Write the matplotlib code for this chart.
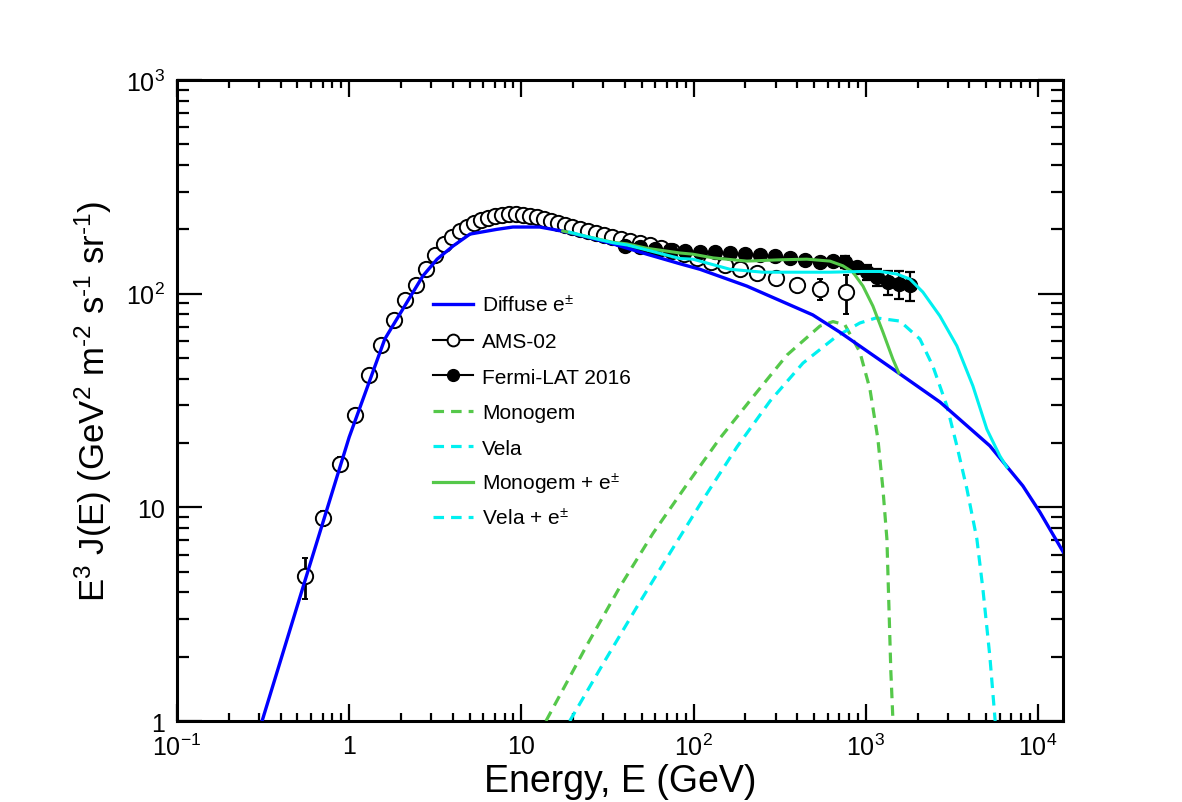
import numpy as np
import matplotlib
matplotlib.use("Agg")
import matplotlib.pyplot as plt
from matplotlib.lines import Line2D
from matplotlib.ticker import FixedLocator, FixedFormatter, NullFormatter

plt.rcParams['font.family'] = ['Liberation Sans', 'DejaVu Sans']
plt.rcParams['mathtext.fontset'] = 'custom'
plt.rcParams['mathtext.rm'] = 'Liberation Sans'
plt.rcParams['mathtext.it'] = 'Liberation Sans:italic'

# ---------------- data ----------------
# Diffuse e+- model
diffuse_E = [0.312, 0.553, 1.0, 1.61, 2.17, 2.68, 3.24, 4.01, 5.03, 7.22, 8.93, 12.8, 17.4, 24.0,
             34.0, 53.6, 83.4, 109, 204, 493, 708, 1438, 2700, 5260, 8180, 10270, 14000]
diffuse_V = [1.0, 4.52, 21.3, 61.3, 91.4, 121, 145, 167, 190, 200, 205, 205, 196, 184,
             171, 153, 138, 130, 108.5, 79.5, 66.0, 44.4, 31.1, 19.4, 12.6, 9.5, 6.2]

# Monogem (dashed green)
monogem_E = [13.9, 24.0, 37.4, 58.1, 91.6, 142, 221, 349, 542, 646, 757, 925, 1058, 1177,
             1259, 1328, 1364, 1400, 1440]
monogem_V = [1.0, 2.26, 4.25, 7.55, 12.8, 21.0, 32.8, 51.6, 70.5, 74.0, 71.5, 53.3, 35.8, 20.9,
             12.2, 7.1, 3.45, 1.7, 1.0]

# Vela (dashed cyan)
vela_E = [19.1, 29.8, 46.9, 72.9, 113, 179, 278, 432, 680, 925, 1150, 1580, 2065, 2455,
          2962, 3385, 3870, 4424, 4793, 5260, 5650]
vela_V = [1.0, 1.85, 3.42, 6.11, 10.8, 19.2, 31.4, 47.3, 63.3, 72.9, 77.0, 74.4, 61.3, 45.8,
          29.8, 19.4, 12.2, 7.1, 4.15, 2.01, 1.0]

# Monogem + e+- (solid green)
mono_sum_E = [17.4, 24.0, 34.0, 41.0, 53.6, 83.4, 99, 130, 204, 318, 455, 620, 737, 843,
              964, 1101, 1259, 1438, 1559]
mono_sum_V = [196.5, 185, 174, 171, 163, 155, 153, 147, 142, 144, 145, 142, 135, 126,
              108.5, 87.5, 66.1, 49.4, 42.5]

# Vela + e+- (solid cyan)
vela_sum_E = [19.1, 24.0, 34.0, 41.0, 53.6, 83.4, 99, 163, 253, 399, 620, 963, 1209, 1518,
              1806, 2148, 2697, 3385, 4193, 5055, 6015, 6607]
vela_sum_V = [194, 185, 173, 169, 160, 146, 145, 130, 126, 126, 126, 127, 127, 123.5,
              117, 101.7, 78.6, 56.9, 37, 23.2, 17.4, 15.4]

# AMS-02 data
ams_E = [0.554, 0.705, 0.884, 1.081, 1.303, 1.530, 1.820, 2.109, 2.443, 2.793, 3.150, 3.552,
         3.954, 4.400, 4.832, 5.305, 5.827, 6.397, 7.025, 7.715, 8.472, 9.304, 10.21, 11.22,
         12.32, 13.53, 14.86, 16.31, 17.92, 19.67, 21.89, 24.37, 27.12, 30.18, 33.59, 37.87,
         42.72, 48.83, 55.82, 64.67, 74.9, 87.97, 104.6, 126.2, 152.1, 186.0, 233.5, 301.0,
         398.6, 542.0, 767.4]
ams_V = [4.77, 8.91, 15.95, 27.0, 41.6, 57.5, 75.2, 93.3, 109.7, 130.4, 151.6, 170.7,
         184.0, 196.3, 204.9, 214.0, 221.0, 225.9, 230.8, 233.3, 235.8, 235.8, 233.3, 230.8,
         228.3, 223.4, 218.7, 214.0, 209.4, 204.9, 200.6, 196.3, 192.1, 188.0, 184.0, 180.1,
         176.3, 172.5, 168.8, 163.5, 158.2, 153.2, 146.8, 140.6, 136.1, 130.4, 124.9, 118.3,
         109.7, 105.1, 101.7]
ams_err = [1.05, 0.75, 1.2, 1.0, 1.2, 1.5, 1.8, 2.0, 2.2, 2.5, 2.8, 3.0,
           3.2, 3.3, 3.4, 3.5, 3.5, 3.5, 3.5, 3.5, 3.5, 3.5, 3.5, 3.4,
           3.4, 3.3, 3.2, 3.1, 3.0, 3.0, 2.9, 2.9, 2.8, 2.8, 2.8, 2.8,
           2.8, 2.8, 2.8, 2.8, 2.8, 2.8, 2.9, 3.0, 3.2, 3.5, 4.0, 4.5,
           5.5, 11.5, 21.0]

# Fermi-LAT 2016 data
fermi_E = [39.96, 48.83, 59.68, 72.9, 89.1, 108.9, 133.1, 162.7, 198.9, 243.0, 297.0, 362.9,
           443.6, 542.0, 645.1, 757.1, 888.9, 1016, 1161, 1345, 1559, 1806]
fermi_V = [167.0, 165.2, 161.7, 160.0, 158.2, 156.6, 156.6, 154.9, 153.2, 151.6, 150.0, 146.8,
           143.6, 140.6, 142.1, 140.6, 133.2, 126.2, 119.6, 113.3, 110.9, 109.7]
fermi_err = [3.0, 3.0, 3.0, 3.0, 3.0, 3.0, 3.0, 3.0, 3.0, 3.0, 3.5, 4.0,
             4.5, 5.0, 6.0, 9.0, 8.0, 10.0, 11.0, 15.0, 17.0, 17.0]

x_ticks = [0.1, 1, 10, 100, 1000, 10000]
x_ticklabels = [r'10$^{-1}$', '1', '10', r'10$^{2}$', r'10$^{3}$', r'10$^{4}$']
y_ticks = [1, 10, 100, 1000]
y_ticklabels = ['1', '10', r'10$^{2}$', r'10$^{3}$']

legend_labels = [r'Diffuse e$^{\pm}$', 'AMS-02', 'Fermi-LAT 2016', 'Monogem', 'Vela',
                 r'Monogem + e$^{\pm}$', r'Vela + e$^{\pm}$']

BLUE = '#0000ff'
GREEN = '#55c84a'
CYAN = '#00f0f0'

# ---------------- figure ----------------
W, H = 1182, 803
fig = plt.figure(figsize=(W / 100, H / 100), dpi=100)
ax = fig.add_axes([0.14975, 0.10087, 0.7496, 0.7983])
ax.set_xscale('log')
ax.set_yscale('log')
ax.set_xlim(0.1, 1.4e4)
ax.set_ylim(1, 1000)

# data points
ax.errorbar(ams_E, ams_V, yerr=ams_err, fmt='o', ms=11, mfc='white', mec='black', mew=1.4,
            ecolor='black', elinewidth=2.0, capsize=2.5, capthick=2.0, zorder=3)
ax.errorbar(fermi_E, fermi_V, yerr=fermi_err, fmt='o', ms=10, mfc='black', mec='black',
            ecolor='black', elinewidth=1.6, capsize=3.5, capthick=1.6, zorder=3)

# model curves
dash = (0, (3.3, 2.2))
ax.plot(monogem_E, monogem_V, color=GREEN, lw=2.3, ls=dash, zorder=4)
ax.plot(vela_E, vela_V, color=CYAN, lw=2.3, ls=dash, zorder=4)
ax.plot(diffuse_E, diffuse_V, color=BLUE, lw=2.4, zorder=5)
ax.plot(mono_sum_E, mono_sum_V, color=GREEN, lw=2.2, zorder=6)
ax.plot(vela_sum_E, vela_sum_V, color=CYAN, lw=2.2, zorder=6)

# ticks
ax.xaxis.set_major_locator(FixedLocator(x_ticks))
ax.xaxis.set_major_formatter(FixedFormatter(x_ticklabels))
ax.yaxis.set_major_locator(FixedLocator(y_ticks))
ax.yaxis.set_major_formatter(FixedFormatter(y_ticklabels))
xminor = [m * 10.0 ** d for d in range(-1, 5) for m in range(2, 10) if m * 10.0 ** d <= 1.4e4]
yminor = [m * 10.0 ** d for d in range(0, 3) for m in range(2, 10)]
ax.xaxis.set_minor_locator(FixedLocator(xminor))
ax.yaxis.set_minor_locator(FixedLocator(yminor))
ax.xaxis.set_minor_formatter(NullFormatter())
ax.yaxis.set_minor_formatter(NullFormatter())
ax.tick_params(which='both', direction='in', top=True, right=True, width=1.6, color='black')
ax.tick_params(which='major', labelsize=18, pad=9)
ax.tick_params(axis='x', which='major', length=12)
ax.tick_params(axis='x', which='minor', length=5.8)
ax.tick_params(axis='y', which='major', length=18)
ax.tick_params(axis='y', which='minor', length=8.6)
for sp in ax.spines.values():
    sp.set_linewidth(2.2)

ax.set_xlabel('Energy, E (GeV)', fontsize=27, labelpad=2)
ax.set_ylabel(r'E$^{3}$ J(E) (GeV$^{2}$ m$^{\text{-}2}$ s$^{\text{-}1}$ sr$^{\text{-}1}$)',
              fontsize=25, labelpad=8)

# legend (drawn manually in figure pixel coordinates)
def fx(px):
    return px / W

def fy(py):
    return 1 - py / H

styles = [
    dict(color=BLUE, lw=2.4),
    dict(color='black', lw=1.5),
    dict(color='black', lw=1.5),
    dict(color=GREEN, lw=2.3, ls=dash),
    dict(color=CYAN, lw=2.3, ls=dash),
    dict(color=GREEN, lw=2.3),
    dict(color=CYAN, lw=2.3, ls=dash),
]
markers = [None, dict(marker='o', ms=8.5, mfc='white', mec='black', mew=1.4),
           dict(marker='o', ms=8.5, mfc='black', mec='black'), None, None, None, None]
row0, step = 305.3, 35.5
for i, (lab, st, mk) in enumerate(zip(legend_labels, styles, markers)):
    yy = row0 + i * step
    fig.add_artist(Line2D([fx(433), fx(473)], [fy(yy), fy(yy)], transform=fig.transFigure, **st))
    if mk is not None:
        fig.add_artist(Line2D([fx(453)], [fy(yy)], transform=fig.transFigure, ls='none', **mk))
    fig.text(fx(482), fy(yy + 7.5), lab, fontsize=15, ha='left', va='baseline')

fig.savefig('out.png', dpi=100)
